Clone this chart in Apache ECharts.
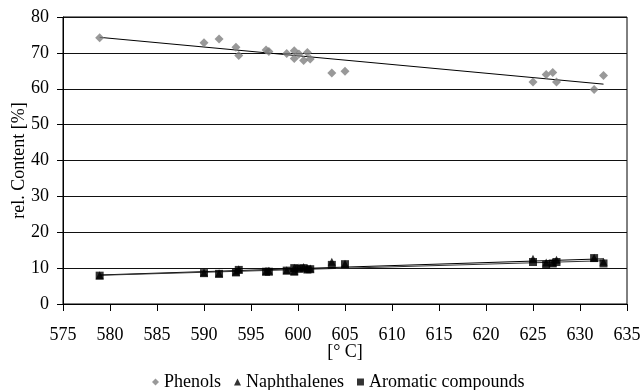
<!DOCTYPE html>
<html>
<head>
<meta charset="utf-8">
<script src="https://cdn.jsdelivr.net/npm/echarts@6/dist/echarts.min.js"></script>
<style>
  html, body { margin: 0; padding: 0; background: #fff; }
  #chart { width: 642px; height: 390px; }
</style>
</head>
<body>
<div id="chart"></div>
<script>
// temperature of each run [°C]
var temps = [578.9, 590.0, 591.6, 593.4, 593.7, 596.6, 596.9, 598.8, 599.6, 599.6,
             600.1, 600.6, 601.0, 601.3, 603.6, 605.0, 625.0, 626.4, 627.1, 627.5,
             631.5, 632.5];
// rel. content [%]
var phenols = [74.2, 72.8, 73.9, 71.6, 69.3, 70.8, 70.4, 69.8, 70.6, 68.4,
               69.7, 67.9, 70.1, 68.3, 64.4, 64.9, 61.9, 64.0, 64.5, 61.9,
               59.8, 63.7];
var naphthalenes = [8.0, 8.8, 8.6, 9.0, 9.7, 9.1, 9.3, 9.4, 10.1, 9.2,
                    10.2, 10.3, 9.8, 9.9, 11.8, 11.2, 12.6, 11.6, 11.6, 12.3,
                    12.9, 11.8];
var aromatics = [7.9, 8.6, 8.4, 8.8, 9.5, 9.0, 9.0, 9.3, 10.0, 9.0,
                 9.8, 10.0, 9.6, 9.7, 10.9, 11.1, 11.7, 10.9, 11.3, 11.7,
                 12.8, 11.3];
var xTicks = [575, 580, 585, 590, 595, 600, 605, 610, 615, 620, 625, 630, 635];
var yTicks = [0, 10, 20, 30, 40, 50, 60, 70, 80];

function pairs(ys) {
    return temps.map(function (t, i) { return [t, ys[i]]; });
}

// least squares trend line over the measured range
function trend(ys) {
    var n = temps.length, sx = 0, sy = 0, sxx = 0, sxy = 0;
    for (var i = 0; i < n; i++) {
        sx += temps[i]; sy += ys[i];
        sxx += temps[i] * temps[i]; sxy += temps[i] * ys[i];
    }
    var b = (n * sxy - sx * sy) / (n * sxx - sx * sx);
    var a = (sy - b * sx) / n;
    var lo = Math.min.apply(null, temps), hi = Math.max.apply(null, temps);
    return [[lo, a + b * lo], [hi, a + b * hi]];
}

var font = '"Liberation Serif", "DejaVu Serif", serif';

var myChart = echarts.init(document.getElementById('chart'));

function lineSeries(ys, color) {
    return {
        type: 'line',
        data: trend(ys),
        symbol: 'none',
        silent: true,
        lineStyle: { color: color, width: 1 },
        z: 1
    };
}

var option = {
    backgroundColor: '#fff',
    animation: false,
    textStyle: { fontFamily: font },
    grid: {
        left: 63, right: 15, top: 17, bottom: 86,
        outerBoundsMode: 'none',
        containLabel: false,
        show: true, borderColor: '#000', borderWidth: 1
    },
    legend: {
        data: [
            { name: 'Phenols', icon: 'diamond' },
            { name: 'Naphthalenes', icon: 'triangle' },
            { name: 'Aromatic compounds', icon: 'rect' }
        ],
        top: 368,
        left: 147,
        itemWidth: 7,
        itemHeight: 7,
        itemGap: 13,
        textStyle: { fontFamily: font, fontSize: 18, color: '#000' }
    },
    xAxis: {
        type: 'value',
        min: xTicks[0],
        max: xTicks[xTicks.length - 1],
        interval: 5,
        name: '[° C]',
        nameLocation: 'middle',
        nameGap: 39,
        nameMoveOverlap: false,
        nameTextStyle: { fontFamily: font, fontSize: 18, color: '#000' },
        axisLine: { lineStyle: { color: '#000' } },
        axisTick: { show: true, length: 7, lineStyle: { color: '#000' } },
        axisLabel: { fontFamily: font, fontSize: 18, color: '#000', margin: 22 },
        splitLine: { show: false }
    },
    yAxis: {
        type: 'value',
        min: yTicks[0],
        max: yTicks[yTicks.length - 1],
        interval: 10,
        name: 'rel. Content [%]',
        nameLocation: 'middle',
        nameGap: 35,
        nameMoveOverlap: false,
        nameTextStyle: { fontFamily: font, fontSize: 18, color: '#000' },
        axisLine: { show: true, lineStyle: { color: '#000' } },
        axisTick: { show: true, length: 6, lineStyle: { color: '#000' } },
        axisLabel: { fontFamily: font, fontSize: 18, color: '#000', margin: 14 },
        splitLine: { show: true, lineStyle: { color: '#111', width: 1 } }
    },
    series: [
        {
            name: 'Phenols', type: 'scatter', data: pairs(phenols),
            symbol: 'diamond', symbolSize: 9,
            itemStyle: { color: '#808080' }, z: 3
        },
        {
            name: 'Naphthalenes', type: 'scatter', data: pairs(naphthalenes),
            symbol: 'triangle', symbolSize: 8,
            itemStyle: { color: '#000' }, z: 2
        },
        {
            name: 'Aromatic compounds', type: 'scatter', data: pairs(aromatics),
            symbol: 'rect', symbolSize: 8,
            itemStyle: { color: '#000' }, z: 3
        },
        lineSeries(phenols, '#000'),
        lineSeries(naphthalenes, '#000'),
        lineSeries(aromatics, '#333')
    ]
};

myChart.setOption(option);
</script>
</body>
</html>
